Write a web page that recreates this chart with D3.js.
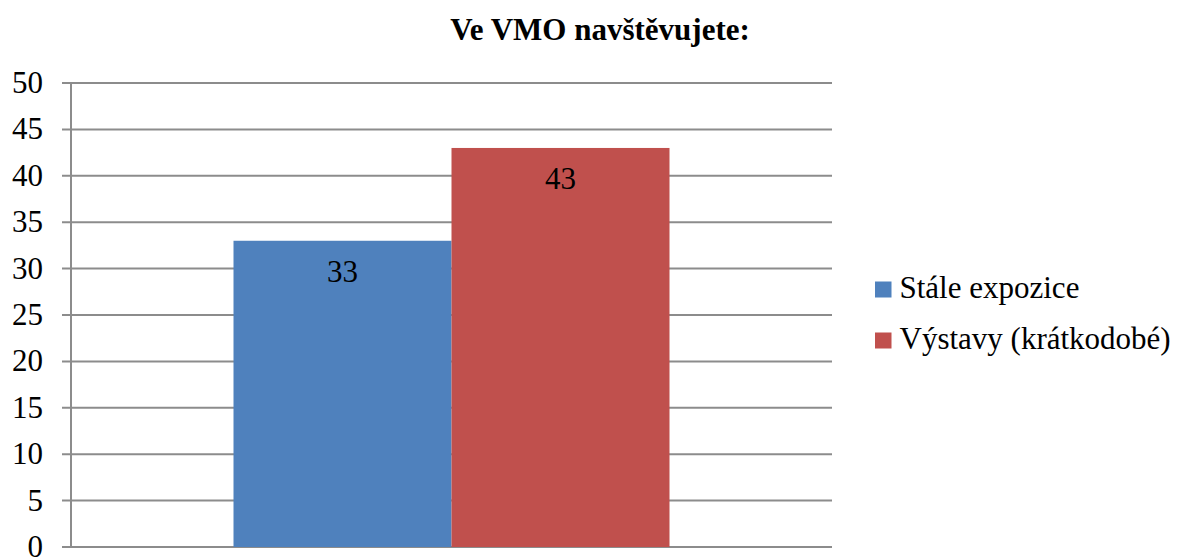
<!doctype html>
<html>
<head>
<meta charset="utf-8">
<style>
  body { margin: 0; background: #fff; }
  .grid line { stroke: #8c8c8c; stroke-width: 2; }
</style>
<script src="https://d3js.org/d3.v7.min.js"></script>
</head>
<body>
<svg width="1181" height="558"></svg>
<script>
var title = "Ve VMO navštěvujete:";
var categories = [""];
var seriesNames = ["Stále expozice", "Výstavy (krátkodobé)"];
var seriesValues = [33, 43];
var colors = ["#4f81bd", "#c0504d"];
var yTicks = [0, 5, 10, 15, 20, 25, 30, 35, 40, 45, 50];

var svg = d3.select("svg")
    .style("font-family", "'Liberation Serif', 'Times New Roman', serif")
    .style("font-size", "31px")
    .attr("fill", "#000");

var margin = {top: 83, left: 71, right: 349, bottom: 11};
var width = 1181 - margin.left - margin.right;
var height = 558 - margin.top - margin.bottom;

svg.append("text")
   .attr("x", 600).attr("y", 40)
   .attr("text-anchor", "middle")
   .attr("font-weight", "bold")
   .text(title);

var g = svg.append("g").attr("transform", "translate(" + margin.left + "," + margin.top + ")");

var y = d3.scaleLinear().domain([0, 50]).range([height, 0]);
var x0 = d3.scaleBand().domain(categories).range([0, width]).paddingInner(0).paddingOuter(0.3727);
var x1 = d3.scaleBand().domain(seriesNames).range([0, x0.bandwidth()]);

// gridlines
g.append("g").attr("class", "grid")
 .selectAll("line").data(yTicks).enter().append("line")
 .attr("x1", -9).attr("x2", width)
 .attr("y1", function(d){ return y(d); }).attr("y2", function(d){ return y(d); });

// y axis line
g.append("line").attr("x1", 0).attr("x2", 0).attr("y1", 0).attr("y2", height)
 .attr("stroke", "#8c8c8c").attr("stroke-width", 2);

// tick labels
g.append("g").selectAll("text").data(yTicks).enter().append("text")
 .attr("x", -28).attr("y", function(d){ return y(d) + 10; })
 .attr("text-anchor", "end")
 .text(function(d){ return d; });

var bars = g.selectAll(".bar").data(seriesValues).enter().append("g").attr("class", "bar");

bars.append("rect")
    .attr("x", function(d, i){ return x0(categories[0]) + x1(seriesNames[i]); })
    .attr("y", function(d){ return y(d); })
    .attr("width", x1.bandwidth())
    .attr("height", function(d){ return height - y(d); })
    .attr("fill", function(d, i){ return colors[i]; });

bars.append("text")
    .attr("x", function(d, i){ return x0(categories[0]) + x1(seriesNames[i]) + x1.bandwidth() / 2; })
    .attr("y", function(d){ return y(d) + 41.5; })
    .attr("text-anchor", "middle")
    .text(function(d){ return d; });

// legend
var legend = svg.append("g").attr("transform", "translate(875,281.5)");
var item = legend.selectAll("g").data(seriesNames).enter().append("g")
    .attr("transform", function(d, i){ return "translate(0," + (i * 51) + ")"; });
item.append("rect").attr("width", 16.5).attr("height", 16)
    .attr("fill", function(d, i){ return colors[i]; });
item.append("text").attr("x", 24.5).attr("y", 16.5)
    .text(function(d){ return d; });
</script>
</body>
</html>
